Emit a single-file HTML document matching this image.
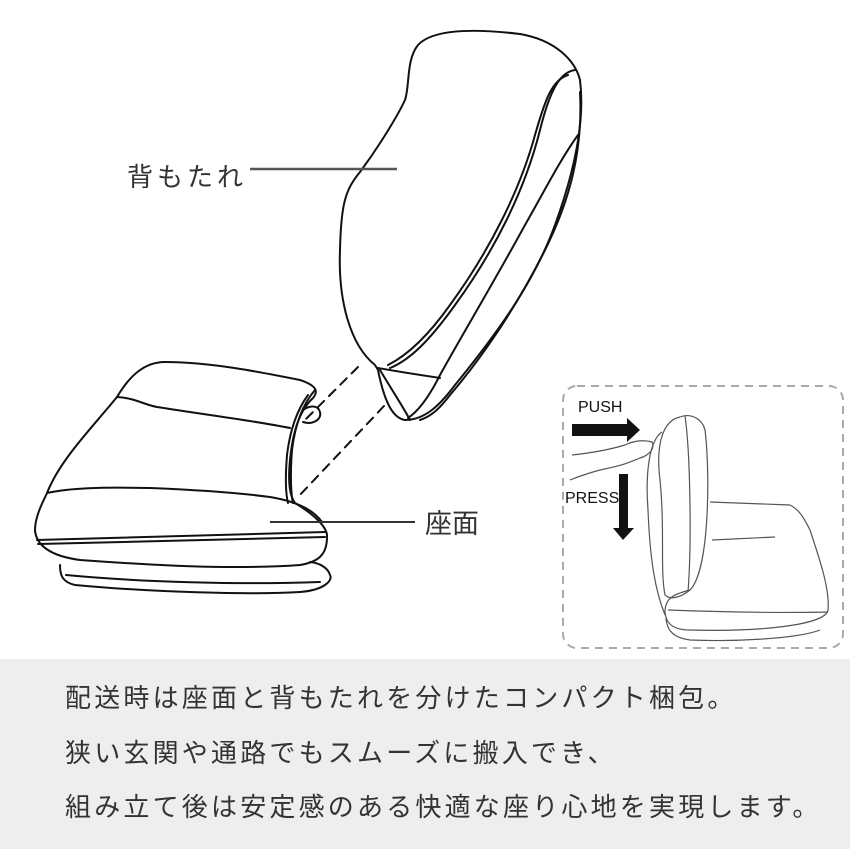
<!DOCTYPE html>
<html><head><meta charset="utf-8"><style>
body{margin:0;width:850px;height:849px;background:#fff;overflow:hidden;position:relative;font-family:"Liberation Sans","Noto Sans CJK JP",sans-serif}
.band{position:absolute;left:0;top:659px;width:850px;height:190px;background:#eeeeee}
.t{position:absolute;left:65px;font-size:26px;letter-spacing:3.2px;color:#333;white-space:nowrap;line-height:30px}
svg{position:absolute;left:0;top:0}
</style></head><body>
<div class="band"></div>
<div class="t" style="top:683px">配送時は座面と背もたれを分けたコンパクト梱包。</div>
<div class="t" style="top:738px">狭い玄関や通路でもスムーズに搬入でき、</div>
<div class="t" style="top:792px">組み立て後は安定感のある快適な座り心地を実現します。</div>
<svg width="850" height="659" viewBox="0 0 850 659">
<g fill="none" stroke="#111" stroke-width="2" stroke-linejoin="round" stroke-linecap="round">
<path d="M375,365 C350,345 338,300 340,250 C341,205 345,190 360,172 C380,145 398,115 405,100 C410,85 406,60 418,45 C432,30 470,28 520,34 C555,40 575,60 580,80 C585,120 575,170 555,225 C535,280 500,330 455,385 C440,405 425,420 405,420 C392,418 384,400 378,370 Z"/>
<path d="M575,70 C560,72 550,90 540,130 C525,190 495,250 455,305 C430,340 410,360 390,368"/>
<path d="M568,75 C552,80 545,100 535,135 C520,190 490,250 450,305 C428,336 408,355 388,365"/>
<path d="M578,135 C560,160 545,190 525,225 C495,280 465,330 440,375 C430,395 420,410 408,418"/>
<path d="M580,92 C583,150 570,200 545,250 C515,310 480,360 450,395 C440,408 432,416 420,420"/>
<path d="M378,368 C400,372 420,375 440,378"/>
<path d="M380,370 C395,395 405,410 410,420"/>
<path d="M117,397 C130,375 145,362 165,362 C210,362 260,372 300,380 C318,386 318,392 313,398 C300,410 293,430 290,460 C288,480 289,495 295,503 C315,515 328,528 327,537 C327,555 318,562 300,565 C230,570 150,565 80,560 C50,556 36,545 35,530 C35,515 45,498 47,493 C60,460 90,430 117,397 Z"/>
<path d="M117,397 C135,398 145,405 157,407 C200,414 250,420 290,428"/>
<path d="M47,493 C70,488 100,487 150,488 C200,490 240,493 270,497 C300,502 315,512 322,522"/>
<path d="M37,540 C120,538 220,535 325,532"/>
<path d="M38,544 C130,542 220,539 325,537"/>
<path d="M315,390 C302,405 295,425 292,450 C290,475 291,495 293,503"/>
<path d="M308,395 C297,410 290,430 287,455 C285,480 286,495 288,503"/>
<path d="M60,565 C60,575 62,582 75,585 C150,592 250,595 300,592 C325,590 333,580 330,575 C328,568 320,563 310,562"/>
<path d="M66,575 C140,582 240,585 320,582"/>
<path d="M303,410 C310,405 318,405 320,412 C322,420 312,425 303,422"/>
<path d="M358,367 L305,420" stroke-dasharray="9,7"/>
<path d="M384,406 L298,497" stroke-dasharray="9,7"/>
</g>
<line x1="250" y1="169" x2="397" y2="169" stroke="#555" stroke-width="2.5"/>
<line x1="270" y1="522" x2="415" y2="522" stroke="#333" stroke-width="2"/>
<text x="127" y="186" font-size="26" letter-spacing="4" fill="#333" font-family="Liberation Sans, Noto Sans CJK JP, sans-serif">背もたれ</text>
<text x="425" y="533" font-size="27" fill="#333" font-family="Liberation Sans, Noto Sans CJK JP, sans-serif">座面</text>
<rect x="563" y="386" width="280" height="262" rx="14" fill="none" stroke="#aaa" stroke-width="2" stroke-dasharray="8,6"/>
<text x="578" y="412" font-size="16" fill="#111" font-family="Liberation Sans, sans-serif">PUSH</text>
<text x="565" y="503" font-size="16" fill="#111" font-family="Liberation Sans, sans-serif">PRESS</text>
<path d="M572,424 L627,424 L627,418 L640,430 L627,442 L627,436 L572,436 Z" fill="#111"/>
<path d="M619,474 L628,474 L628,528 L634,528 L623,540 L613,528 L619,528 Z" fill="#111"/>
<g fill="none" stroke="#555" stroke-width="1.2">
<path d="M680,417 C665,420 655,440 660,480 C665,530 660,570 665,595 C670,600 680,598 690,590 C710,570 710,470 705,430 C702,418 690,413 680,417 Z"/>
<path d="M685,416 C690,450 692,540 688,592"/>
<path d="M662,432 C650,440 645,470 648,510 C650,560 655,590 665,615"/>
<path d="M710,502 L790,505 C800,510 805,520 810,530"/>
<path d="M712,540 L775,537"/>
<path d="M810,530 C820,560 830,590 828,610 C826,625 760,632 690,630 C675,630 665,625 665,610 C666,600 670,595 690,590"/>
<path d="M668,610 C720,612 780,613 828,612"/>
<path d="M666,618 C667,632 675,638 690,640 C740,642 800,638 820,630"/>
<path d="M572,455 C600,452 615,448 625,445 C635,440 645,440 652,442 C655,448 650,455 640,458 C630,462 625,465 600,470 C585,474 575,478 570,480"/>
</g>
</svg>
</body></html>
